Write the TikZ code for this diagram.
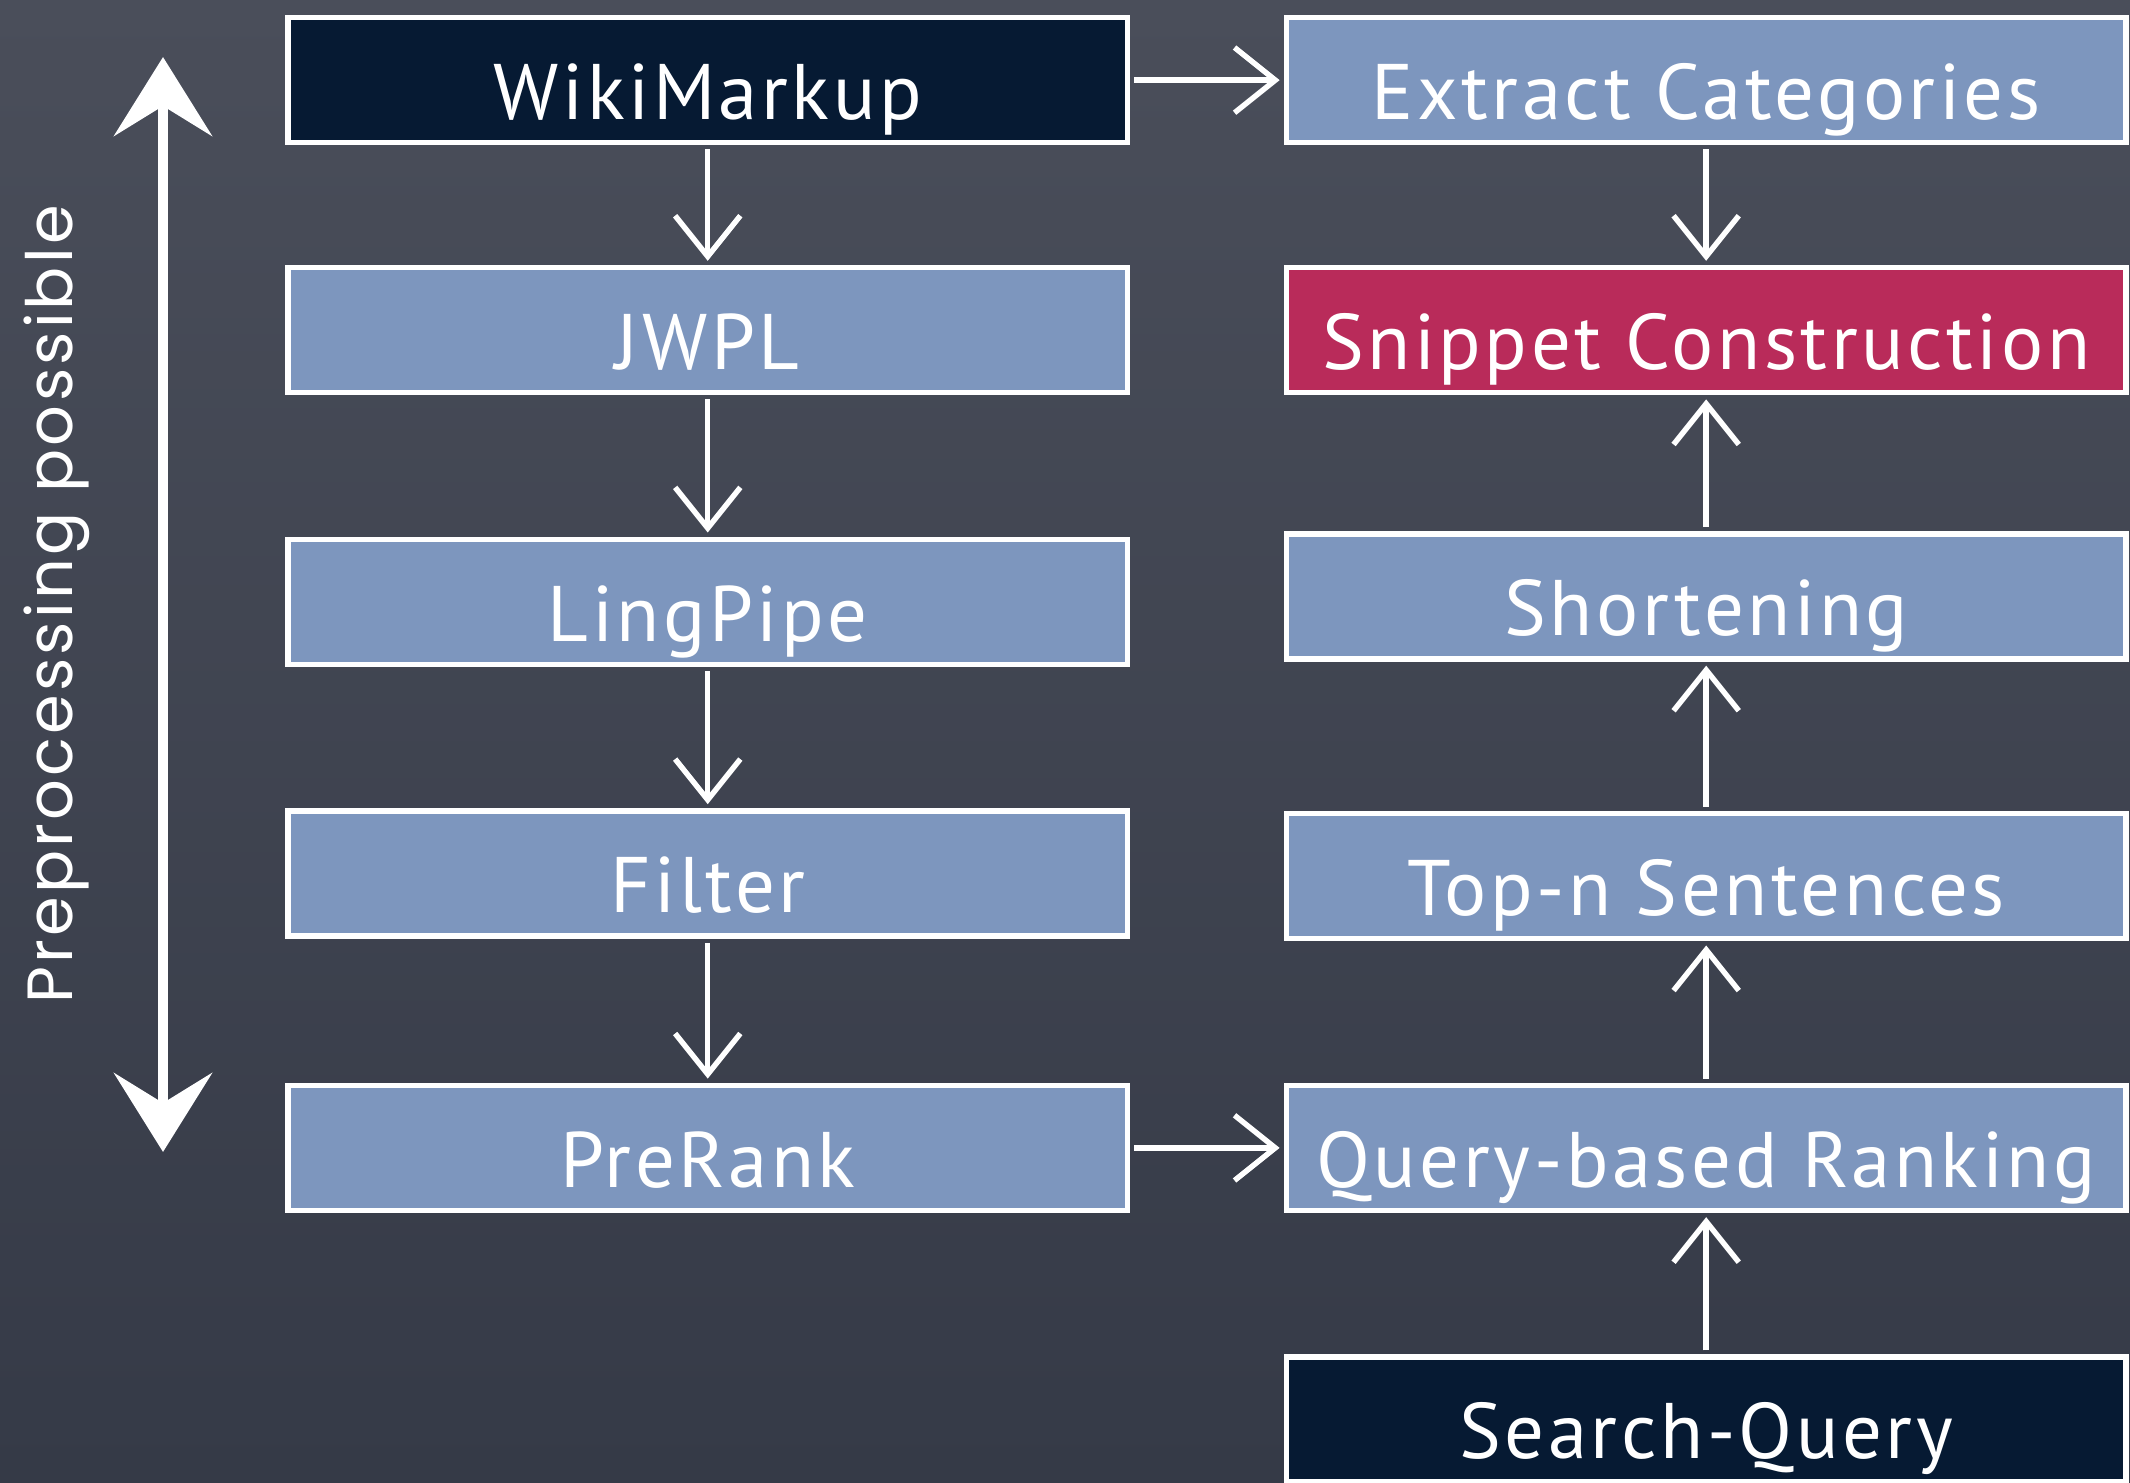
\documentclass[tikz,border=0pt]{standalone}
\usepackage{fontspec}
\setmainfont{PT Sans}
\newfontfamily\stagefont{PT Sans}[LetterSpace=4.5]
\newfontfamily\sidefont{Poppins}[LetterSpace=5]
\usepackage{tikz}
\usetikzlibrary{arrows.meta,chains,positioning}
\definecolor{slateTop}{HTML}{4A4E5A}
\definecolor{slateBot}{HTML}{353A47}
\definecolor{stageBlue}{HTML}{7D96BE}
\definecolor{stageNavy}{HTML}{061A33}
\definecolor{stageRed}{HTML}{B92B5A}
\tikzset{>={Straight Barb[length=30pt,width=48pt]}}
\tikzstyle{stage}=[
	 rectangle, draw=white, line width=4pt,
	 fill=stageBlue, text=white,
	 minimum width=618pt, minimum height=92pt,
	 inner sep=0pt, text height=58pt, text depth=0pt,
	 font=\stagefont\fontsize{58}{60}\selectfont
    ]
\tikzstyle{chalk}=[white, line width=4pt, shorten >=3pt, shorten <=3pt]
\newcommand{\pDown}[2]{\draw[chalk,->] (#1.south) -- (#2.north)}
\newcommand{\pUp}[2]{\draw[chalk,->] (#1.north) -- (#2.south)}
\newcommand{\pSide}[2]{\draw[chalk,->] (#1.east) -- (#2.west)}

\begin{document}
\begin{tikzpicture}[x=1pt,y=-1pt,node distance=104pt]

\useasboundingbox (0,0) rectangle (1568,1091);
\shade[top color=slateTop,bottom color=slateBot] (0,0) rectangle (1568,1091);

\begin{scope}[start chain=lft going below]
\node[stage,fill=stageNavy,on chain=lft] (wiki) at (521,59) {WikiMarkup};
\node[stage,node distance=88pt,on chain=lft] (jwpl) {JWPL};
\node[stage,on chain=lft] (ling) {LingPipe};
\node[stage,on chain=lft] (filter) {Filter};
\node[stage,node distance=106pt,on chain=lft] (prerank) {PreRank};
\end{scope}

\begin{scope}[start chain=rgt going below]
\node[stage,on chain=rgt] (extract) at (1256,59) {Extract Categories};
\node[stage,fill=stageRed,node distance=88pt,on chain=rgt] (snippet) {Snippet Construction};
\node[stage,node distance=100pt,on chain=rgt] (short) {Shortening};
\node[stage,node distance=110pt,on chain=rgt] (topn) {Top-n Sentences};
\node[stage,on chain=rgt] (query) {Query-based Ranking};
\node[stage,fill=stageNavy,on chain=rgt] (search) {Search-Query};
\end{scope}

\node[rotate=90,text=white,font=\sidefont\fontsize{47}{50}\selectfont] (side) at (42,445) {Preprocessing possible};
\coordinate (bothTop) at (120,42);
\coordinate (bothBot) at (120,848);
\draw[white,line width=8pt,{Stealth[length=58pt,width=72pt,inset=22pt]}-{Stealth[length=58pt,width=72pt,inset=22pt]}] (bothTop) -- (bothBot);

\pDown{wiki}{jwpl};
\pDown{jwpl}{ling};
\pDown{ling}{filter};
\pDown{filter}{prerank};

\pSide{wiki}{extract};
\pSide{prerank}{query};

\pDown{extract}{snippet};
\pUp{short}{snippet};
\pUp{topn}{short};
\pUp{query}{topn};
\pUp{search}{query};

\end{tikzpicture}
\end{document}
